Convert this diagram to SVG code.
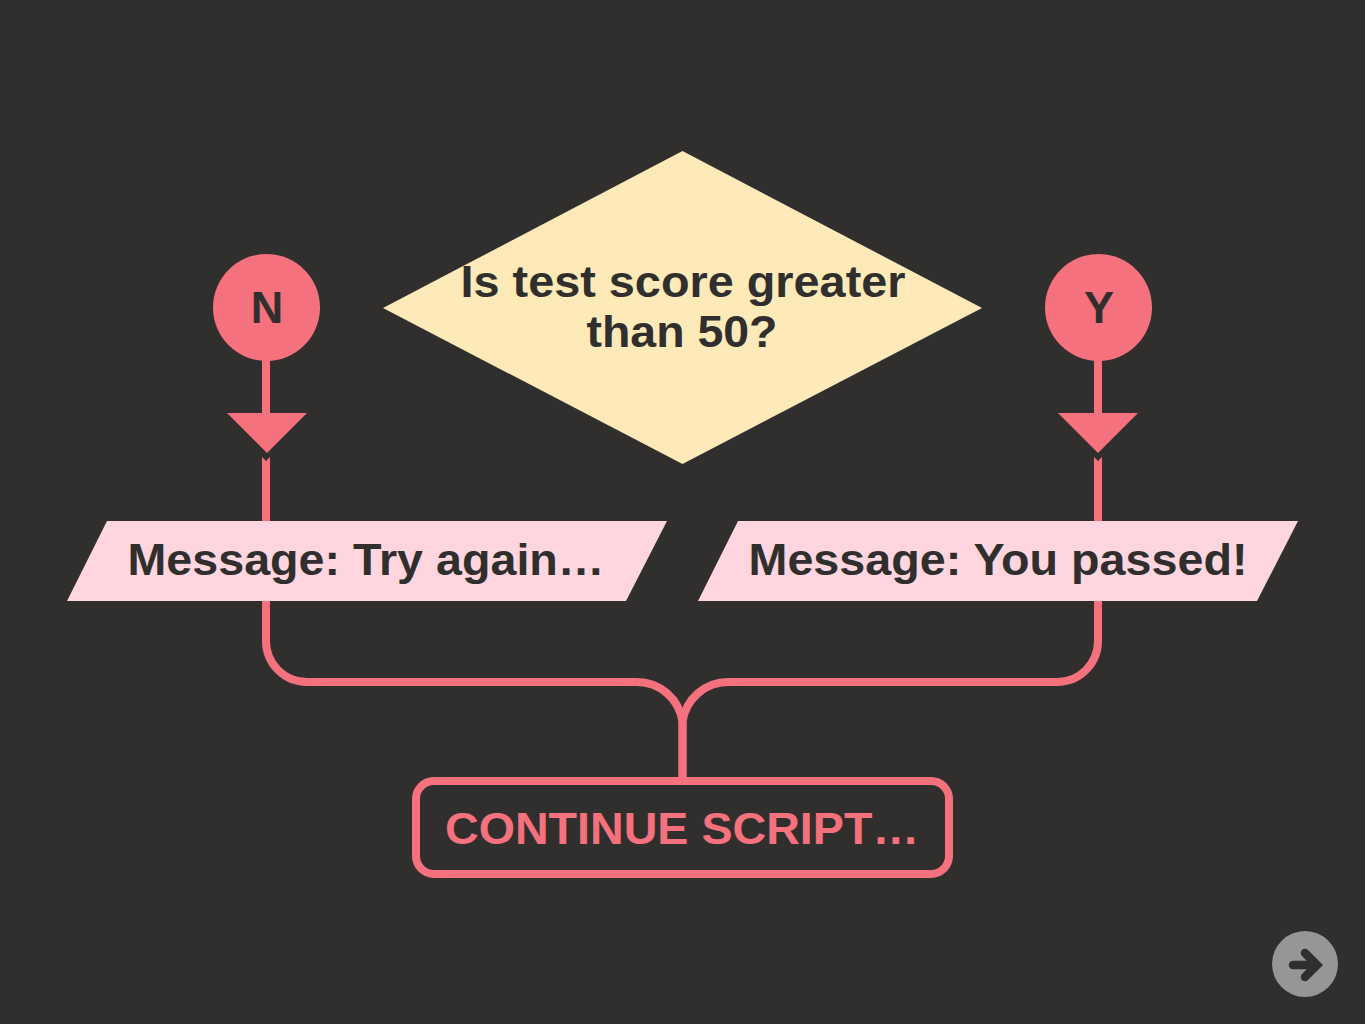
<svg xmlns="http://www.w3.org/2000/svg" width="1365" height="1024" viewBox="0 0 1365 1024">
<style>
text{font-family:"Liberation Sans",Arial,sans-serif;font-weight:700;fill:#302f2e;text-anchor:middle}
.c{fill:none;stroke:#f4717d;stroke-width:8}
.t{font-size:45px}
.h{fill:#f4717d}
.n{fill:#302f2e}
</style>
<rect width="1365" height="1024" fill="#302f2e"/>
<g id="connectors">
<path class="c" d="M266 360V641a41 41 0 0 0 41 41H636a46 46 0 0 1 46.500 40V780"/>
<path class="c" d="M1098 360V641a41 41 0 0 1 -41 41H729a46 46 0 0 0 -46.500 40V780"/>
<path class="n" d="M236 431H296L266 461Z"/>
<path class="n" d="M1068 431H1128L1098 461Z"/>
<path class="h" d="M227 413H307L267 453Z"/>
<path class="h" d="M1058 413H1138L1098 453Z"/>
</g>
<g id="decision"><path d="M682.500 151L982 308 682.500 464 383 308Z" fill="#feeab9"/><text class="t" x="683" y="297" textLength="445" lengthAdjust="spacingAndGlyphs">Is test score greater</text><text class="t" x="682" y="347" textLength="191" lengthAdjust="spacingAndGlyphs">than 50?</text></g>
<g id="no"><circle cx="266.500" cy="307.500" r="53.500" class="h"/><text class="t" x="267" y="323">N</text></g>
<g id="yes"><circle cx="1098.500" cy="307.500" r="53.500" class="h"/><text class="t" x="1099" y="323">Y</text></g>
<g id="try-again"><path d="M107 521H667L626 601H67Z" fill="#ffd6e0"/><text class="t" x="366" y="575" textLength="477" lengthAdjust="spacingAndGlyphs">Message: Try again…</text></g>
<g id="passed"><path d="M738 521H1298L1257 601H698Z" fill="#ffd6e0"/><text class="t" x="998" y="575" textLength="499" lengthAdjust="spacingAndGlyphs">Message: You passed!</text></g>
<g id="continue"><rect x="416" y="781" width="533" height="93" rx="18" fill="#302f2e" stroke="#f4717d" stroke-width="8"/><text class="t" x="682" y="844" textLength="474" lengthAdjust="spacingAndGlyphs" style="fill:#f4717d">CONTINUE SCRIPT…</text></g>
<g id="next"><circle cx="1305" cy="964" r="33" fill="#979695"/><path d="M1293 965H1317M1305 953L1317 965 1305 977" fill="none" stroke="#302f2e" stroke-width="8.500" stroke-linecap="round" stroke-linejoin="miter"/></g>
</svg>
